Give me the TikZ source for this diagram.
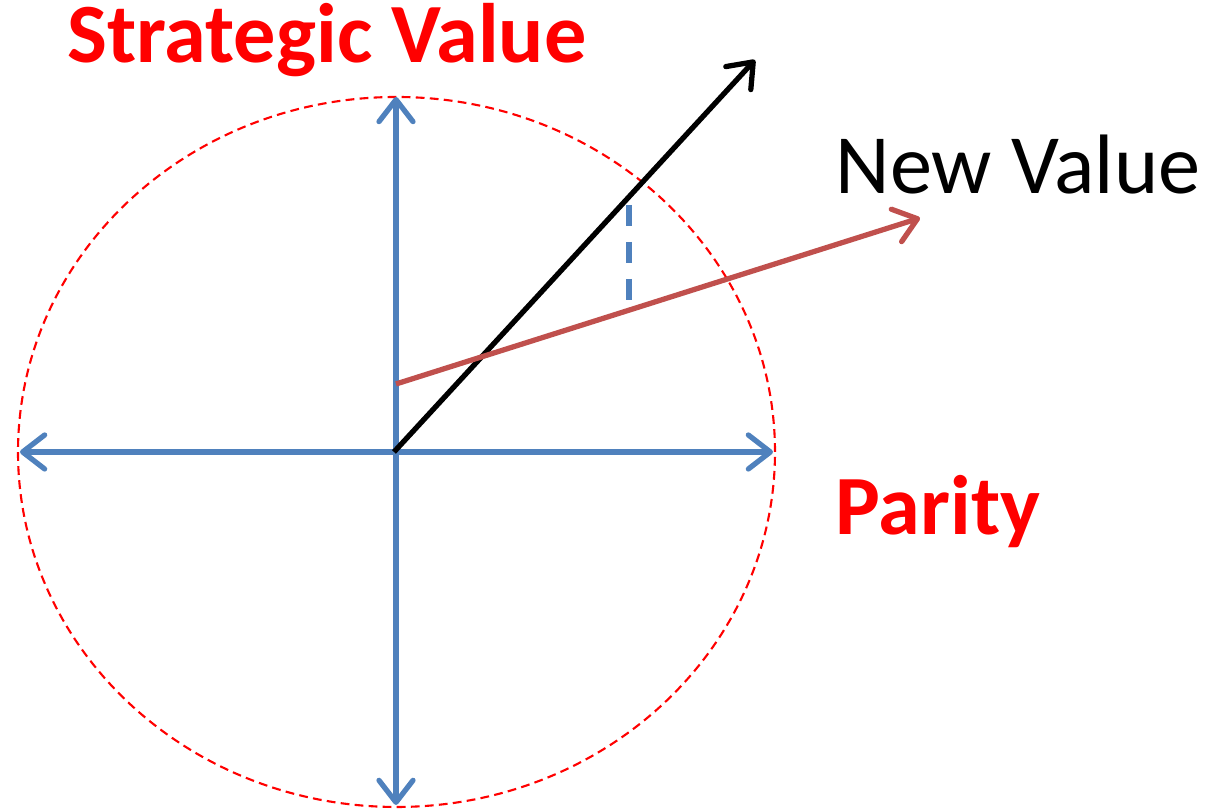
\documentclass[tikz,border=0pt]{standalone}
\usepackage{fontspec}
\setmainfont{Carlito}
\usepackage{xcolor}
\usetikzlibrary{arrows.meta}

\definecolor{axisblue}{HTML}{4F81BD}
\definecolor{newred}{HTML}{C0504D}

\tikzset{
    openarrow/.style={-{Straight Barb[length=2.2mm, width=3.4mm, line cap=round, line join=round]}},
    axisline/.style={line width=1.5pt, axisblue, {Straight Barb[length=2.2mm, width=3.4mm, line cap=round, line join=round]}-{Straight Barb[length=2.2mm, width=3.4mm, line cap=round, line join=round]}},
    redlabel/.style={text=red, font=\fontsize{24}{28}\selectfont\bfseries, inner sep=0pt}
}

\begin{document}
\begin{tikzpicture}
    \useasboundingbox (0,0) rectangle (12.17,8.09);

    % --- Key points ---
    \coordinate (origin) at (3.94,3.57);
    \coordinate (west) at (0.20,3.57);
    \coordinate (east) at (7.73,3.57);
    \coordinate (north) at (3.96,7.12);
    \coordinate (south) at (3.96,0.04);
    \coordinate (oldtip) at (7.55,7.49);
    \coordinate (newstart) at (3.96,4.25);
    \coordinate (newtip) at (9.20,5.91);
    \coordinate (gaptop) at (6.29,6.04);
    \coordinate (gapbot) at (6.29,5.09);

    % --- Unit circle (dashed ellipse) ---
    \draw[red, line width=0.6pt, dash pattern=on 2.5pt off 1.5pt] (3.965,3.57) ellipse (3.785 and 3.55);

    % --- Axes ---
    \draw[axisline] (west) -- (east);
    \draw[axisline] (south) -- (north);

    % --- Old value vector ---
    \draw[line width=1.5pt, openarrow] (origin) -- (oldtip);

    % --- New value vector ---
    \draw[line width=1.5pt, newred, openarrow] (newstart) -- (newtip);

    % Gap between the two vectors
    \draw[line width=1.5pt, axisblue, dash pattern=on 6pt off 4.5pt] (gaptop) -- (gapbot);

    % --- Labels ---
    \node[redlabel] (strategic) at (3.27,7.69) {Strategic Value};
    \node[inner sep=0pt, font=\fontsize{24}{28}\selectfont] (newvalue) at (10.18,6.44) {New Value};
    \node[redlabel] (parity) at (9.38,2.97) {Parity};

\end{tikzpicture}
\end{document}
